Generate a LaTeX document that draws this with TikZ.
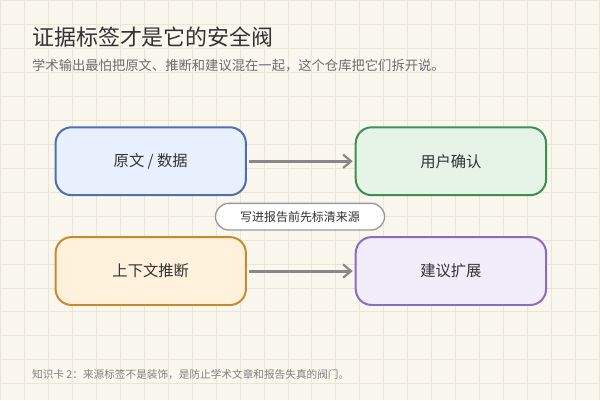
\documentclass[tikz,border=0pt]{standalone}
\usepackage{fontspec}
\setmainfont{Noto Sans CJK SC}
\usetikzlibrary{arrows.meta, positioning}
\definecolor{paper}{HTML}{FAF7EE}
\definecolor{gridc}{HTML}{EBE5D5}
\definecolor{ink}{HTML}{333333}
\definecolor{rawline}{HTML}{4F6FAF}
\definecolor{rawfill}{HTML}{E8F0FD}
\definecolor{okline}{HTML}{3F8F52}
\definecolor{okfill}{HTML}{E6F4E8}
\definecolor{infline}{HTML}{C98A2E}
\definecolor{inffill}{HTML}{FFF1DC}
\definecolor{sugline}{HTML}{8A6CC2}
\definecolor{sugfill}{HTML}{F2ECFB}
\definecolor{arrowc}{HTML}{888888}
\begin{document}
\begin{tikzpicture}[
    x=0.75pt, y=-0.75pt,
    box/.style={draw, line width=1.5pt, rounded corners=12pt, minimum width=143pt, minimum height=51pt, font=\fontsize{11.5}{13}\selectfont, text=ink},
    arrow/.style={-{Straight Barb[length=6pt, width=10pt, line width=1.6pt]}, line width=2.2pt, draw=arrowc, shorten <=1.5pt, shorten >=1.5pt},
    tag/.style={draw=gray!80, line width=1pt, fill=white, rounded corners=10pt, minimum width=127pt, minimum height=20pt, font=\fontsize{9}{10}\selectfont, text=ink},
    node distance=30pt and 81pt
]
    % background and grid
    \fill[paper] (0,0) rectangle (600,400);
    \draw[gridc, line width=0.75pt] (0,0) grid[step=18pt] (600,400);
    \useasboundingbox (0,0) rectangle (600,400);

    % title
    \node[anchor=west, text=ink, font=\fontsize{16.5}{19}\selectfont] (title) at (27,37) {证据标签才是它的安全阀};
    \node[anchor=west, text=gray!85!black, font=\fontsize{10}{12}\selectfont] (sub) at (27,65) {学术输出最怕把原文、推断和建议混在一起，这个仓库把它们拆开说。};

    % boxes
    \node[box, draw=rawline, fill=rawfill] (raw) at (150.5,161) {原文 / 数据};
    \node[box, draw=okline, fill=okfill, right=of raw] (confirm) {用户确认};
    \node[box, draw=infline, fill=inffill, below=of raw] (infer) {上下文推断};
    \node[box, draw=sugline, fill=sugfill, right=of infer] (suggest) {建议扩展};
    \node[tag] (note) at (300,216.5) {写进报告前先标清来源};

    % arrows
    \draw[arrow] (raw) -- (confirm);
    \draw[arrow] (infer) -- (suggest);

    % footer
    \node[anchor=west, text=gray, font=\fontsize{8}{10}\selectfont] (foot) at (27,375) {知识卡 2：来源标签不是装饰，是防止学术文章和报告失真的阀门。};
\end{tikzpicture}
\end{document}
